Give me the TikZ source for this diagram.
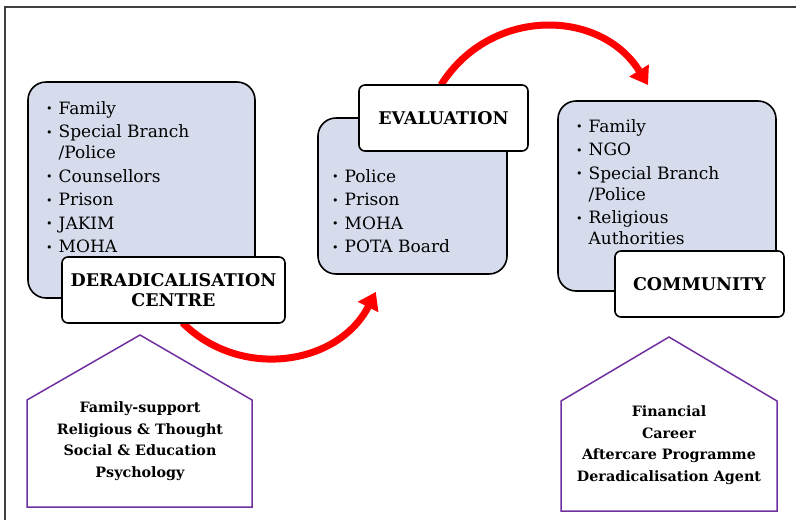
\documentclass[tikz,border=0pt]{standalone}
\usepackage{fontspec}
\setmainfont{DejaVu Serif}
\usetikzlibrary{arrows.meta}
\definecolor{boxblue}{HTML}{D6DCEC}
\definecolor{housepurple}{HTML}{7030A0}
\definecolor{arrowred}{HTML}{FF0000}
\definecolor{framegray}{HTML}{404040}
\newcommand{\bul}{\raisebox{1.5pt}{\fontsize{11}{11}\selectfont •}}
\newcommand{\itemgap}{\\[2.5pt]}
\begin{document}
\begin{tikzpicture}[x=1pt,y=-1pt,
  frame/.style={draw=framegray, line width=1.2pt},
  bluebox/.style={draw=black, line width=1.6pt, fill=boxblue, rounded corners=18pt, inner sep=0pt},
  labelbox/.style={draw=black, line width=1.6pt, fill=white, rounded corners=6pt, inner sep=0pt, align=center,
     font=\fontsize{17.5}{20}\selectfont\bfseries},
  listtext/.style={anchor=base west, inner sep=0pt, font=\fontsize{17}{21}\selectfont},
  house/.style={draw=housepurple, line width=1.5pt},
  housetext/.style={align=center, inner sep=0pt, font=\fontsize{14.3}{21.5}\selectfont\bfseries},
  flow/.style={draw=arrowred, line width=7pt, -{Triangle[length=17pt,width=22pt]}}
]
\useasboundingbox (0,0) rectangle (796,520);
\draw[frame] (796,7) -- (5,7) -- (5,520);

% arrows (drawn first, boxes cover their starts)
\coordinate (a1s) at (182.4,322.6);
\coordinate (a1e) at (375.8,291.9);
\coordinate (a2s) at (441,85);
\coordinate (a2e) at (648,85);
\draw[flow] (a1s) .. controls (240.5,380.7) and (338.5,365.1) .. (a1e);
\draw[flow] (a2s) .. controls (490.1,6.8) and (600.3,8.0) .. (a2e);

% Deradicalisation centre
\node[bluebox, minimum width=227pt, minimum height=216pt] (dcbox) at (141.5,190) {};
\node[listtext] (dclist) at (46,114) {\begin{tabular}[t]{@{}l@{\hspace{6pt}}l@{}}
\bul & Family\itemgap
\bul & Special Branch\\
     & /Police\itemgap
\bul & Counsellors\itemgap
\bul & Prison\itemgap
\bul & JAKIM\itemgap
\bul & MOHA
\end{tabular}};
\node[labelbox, minimum width=223pt, minimum height=66pt] (dclabel) at (173.5,290) {DERADICALISATION\\CENTRE};

% Evaluation
\node[bluebox, minimum width=189pt, minimum height=156pt] (evbox) at (412.5,196) {};
\node[listtext] (evlist) at (332,182) {\begin{tabular}[t]{@{}l@{\hspace{6pt}}l@{}}
\bul & Police\itemgap
\bul & Prison\itemgap
\bul & MOHA\itemgap
\bul & POTA Board
\end{tabular}};
\node[labelbox, minimum width=169pt, minimum height=66pt] (evlabel) at (443.5,118) {EVALUATION};

% Community
\node[bluebox, minimum width=218pt, minimum height=190pt] (cmbox) at (667,196) {};
\node[listtext] (cmlist) at (576,132) {\begin{tabular}[t]{@{}l@{\hspace{6pt}}l@{}}
\bul & Family\itemgap
\bul & NGO\itemgap
\bul & Special Branch\\
     & /Police\itemgap
\bul & Religious\\
     & Authorities
\end{tabular}};
\node[labelbox, minimum width=169pt, minimum height=66pt] (cmlabel) at (699.5,284) {COMMUNITY};

% houses
\draw[house] (140,335) -- (252,400) -- (252,507) -- (27,507) -- (27,400) -- cycle;
\node[housetext] (lhouse) at (140,441) {Family-support\\Religious \& Thought\\Social \& Education\\Psychology};
\draw[house] (669,337) -- (777,401) -- (777,511) -- (561,511) -- (561,401) -- cycle;
\node[housetext] (rhouse) at (669,445) {Financial\\Career\\Aftercare Programme\\Deradicalisation Agent};
\end{tikzpicture}
\end{document}
